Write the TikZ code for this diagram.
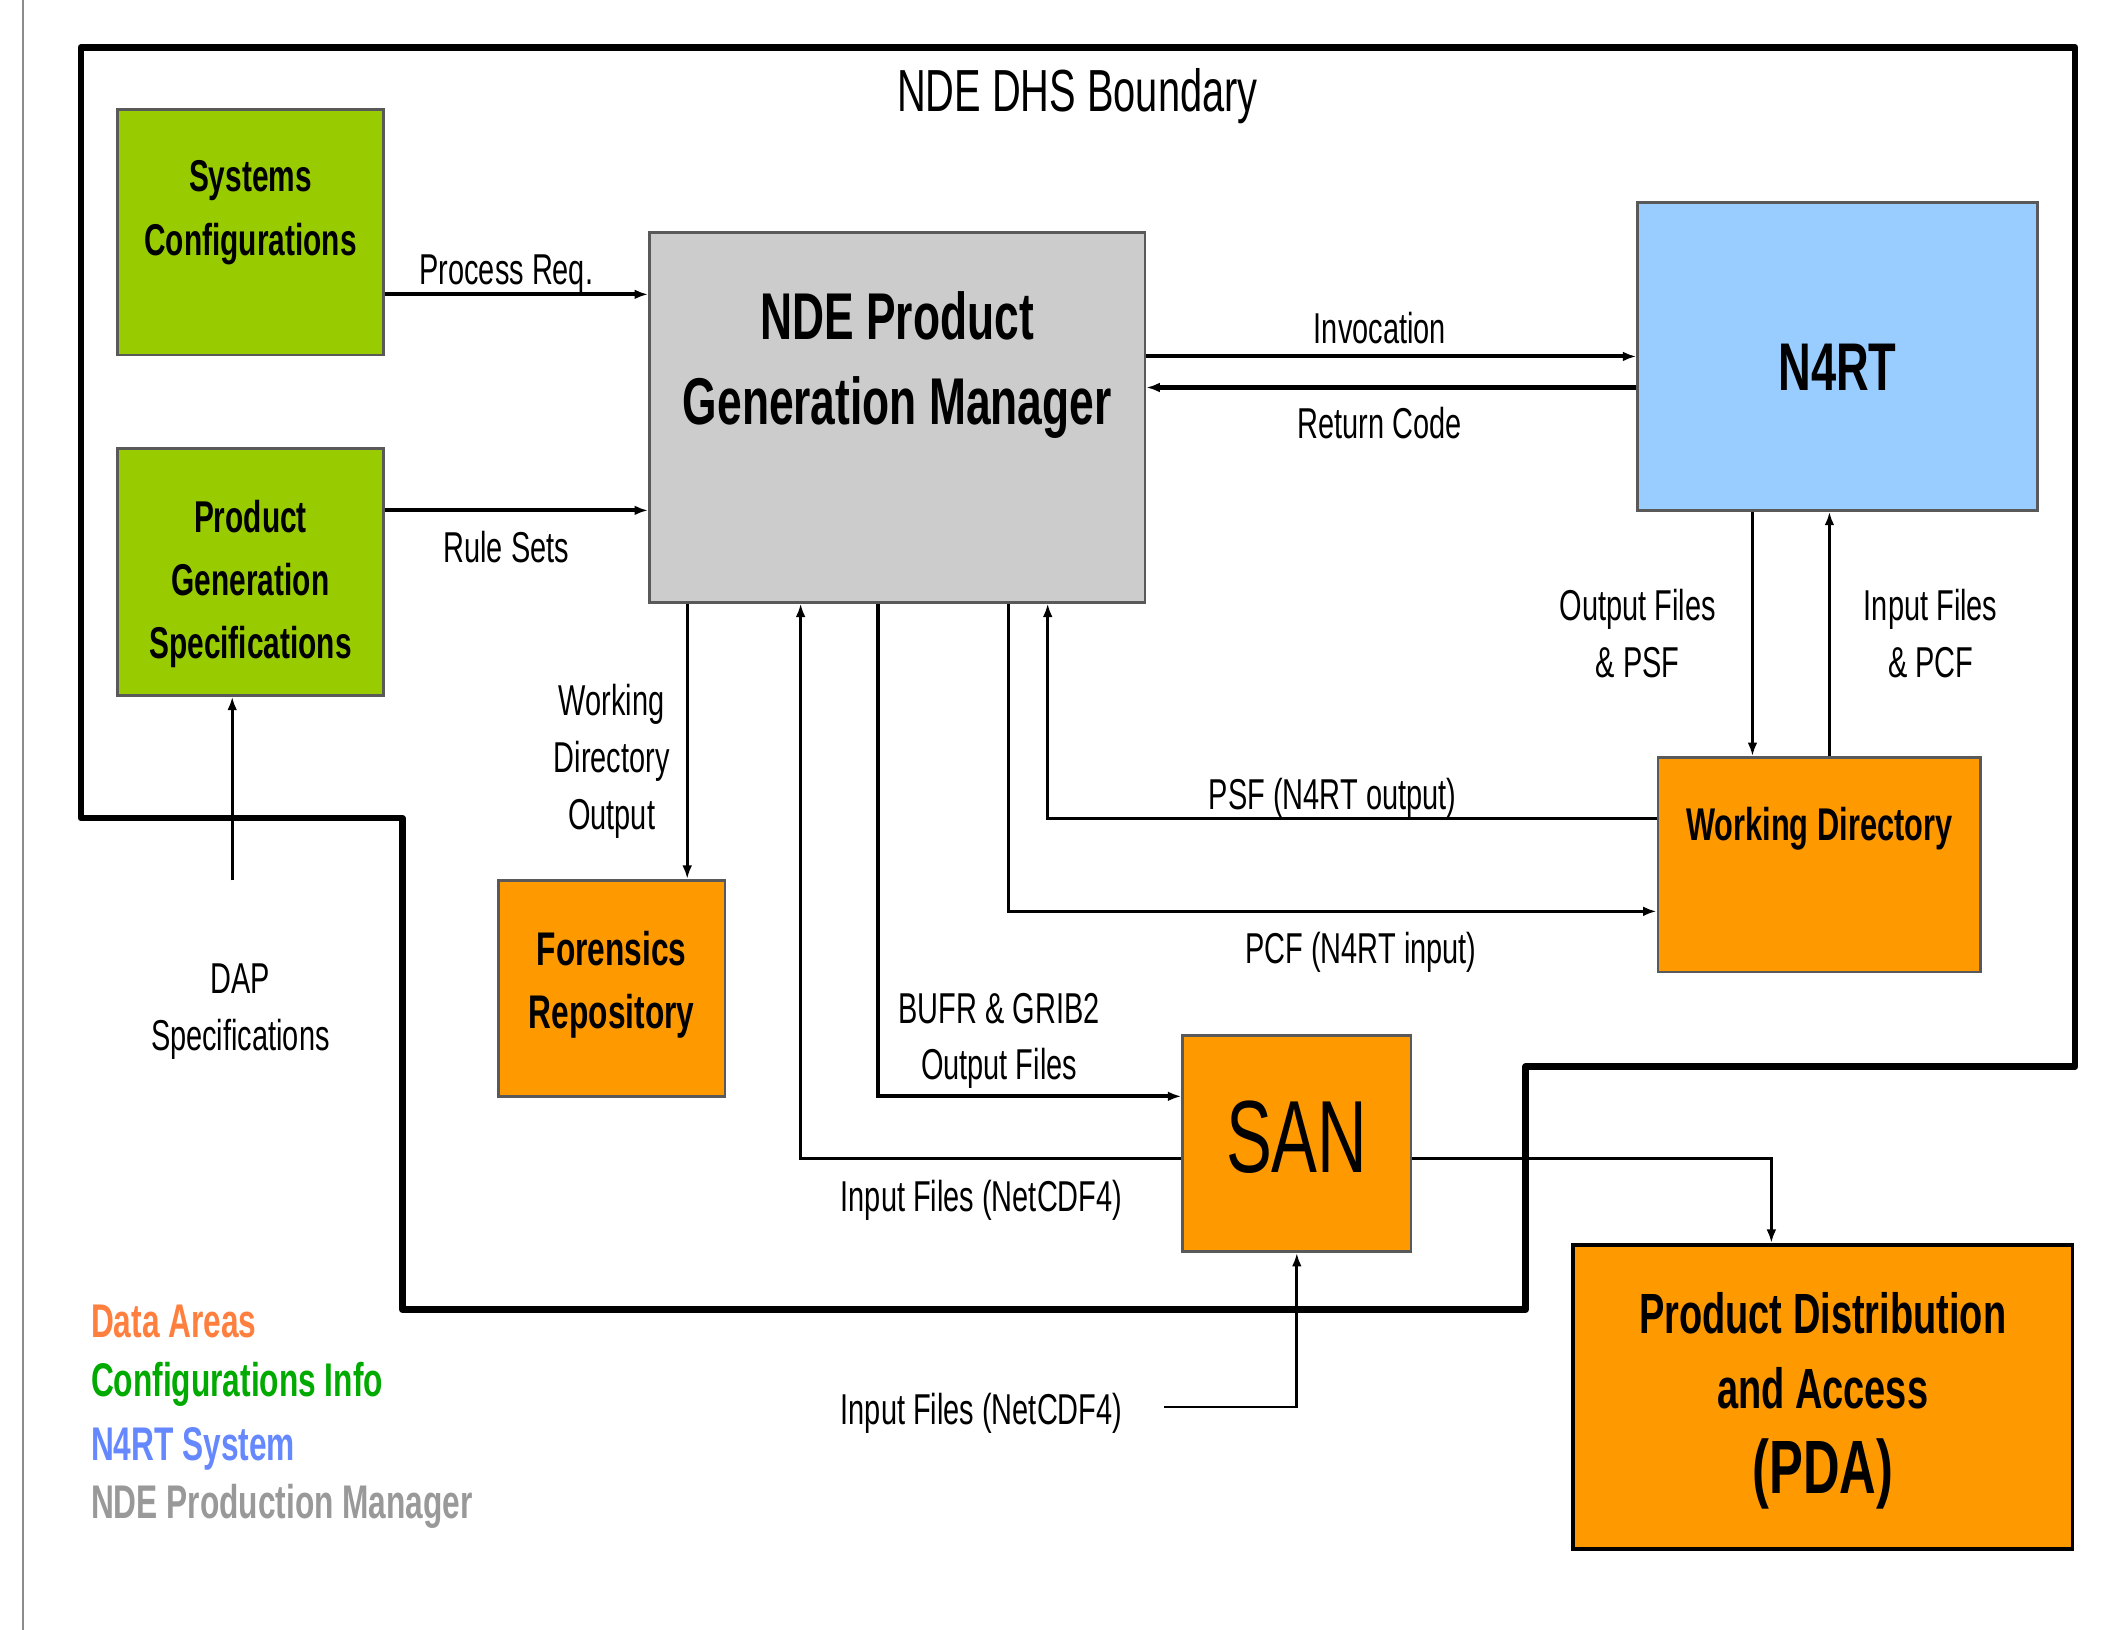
\documentclass[tikz,border=0pt]{standalone}
\usepackage{fontspec}
\setmainfont[FakeStretch=0.67]{Liberation Sans}
\usetikzlibrary{calc,arrows.meta,positioning}
\definecolor{cfggreen}{HTML}{99CC00}
\definecolor{pgmgrey}{HTML}{CCCCCC}
\definecolor{rtblue}{HTML}{99CCFF}
\definecolor{dataorange}{HTML}{FF9900}
\definecolor{legorange}{HTML}{FF7F3F}
\definecolor{leggreen}{HTML}{00AA00}
\definecolor{legblue}{HTML}{6688FF}
\definecolor{leggrey}{HTML}{999999}
\tikzset{box/.style={draw=black!65, line width=1pt, rectangle, inner sep=0pt, fill=#1},
  boxtext/.style={font=\bfseries\fontsize{16.5}{23.5}\selectfont, align=center},
  lbl/.style={font=\fontsize{16}{21}\selectfont, align=center},
  flow/.style={line width=1pt, -{Latex[length=5pt,width=3.6pt]}},
  bigflow/.style={flow, line width=1.5pt},
  boundary/.style={line width=2.4pt, line join=round},
  legend/.style={font=\bfseries\fontsize{17.5}{20}\selectfont, anchor=west, inner xsep=0pt}}

\begin{document}
\begin{tikzpicture}[x=0.5pt, y=-0.5pt]
    \useasboundingbox (0,0) rectangle (1568,1207);
    \draw[black!45, line width=1pt] (17,0) -- (17,1207);
    % boundary
    \draw[boundary] (60,35) -- (1537,35) -- (1537,790) -- (1130,790) -- (1130,970) -- (298,970) -- (298,606) -- (60,606) -- cycle;
    \node[font=\fontsize{22}{26}\selectfont] (title) at (798,71) {NDE DHS Boundary};
    % boxes
    \node[box=cfggreen, minimum width=98.5pt, minimum height=91pt] (sysconf) at (185.5,172) {};
    \node[boxtext] (sysconf-txt) at ($(sysconf)+(0,-14.5)$) {Systems\\Configurations};
    \node[box=cfggreen, minimum width=98.5pt, minimum height=91.5pt] (pgs) at (185.5,423.5) {};
    \node[boxtext] (pgs-txt) at ($(pgs)+(0,9)$) {Product\\Generation\\Specifications};
    \node[box=pgmgrey, minimum width=183.5pt, minimum height=137pt] (pgm) at (664.5,309) {};
    \node[boxtext, font=\bfseries\fontsize{24.5}{31.5}\selectfont] (pgm-txt) at ($(pgm)+(0,-38.5)$) {NDE Product\\Generation Manager};
    \node[box=rtblue, minimum width=148pt, minimum height=114pt] (n4rt) at (1361,264) {};
    \node[boxtext, font=\bfseries\fontsize{25}{30}\selectfont] (n4rt-txt) at ($(n4rt)+(0,8)$) {N4RT};
    \node[box=dataorange, minimum width=119.5pt, minimum height=79.5pt] (wd) at (1347.5,640.5) {};
    \node[boxtext, font=\bfseries\fontsize{17}{23.5}\selectfont] (wd-txt) at ($(wd)+(0,-26.5)$) {Working Directory};
    \node[box=dataorange, minimum width=84pt, minimum height=80pt] (forensic) at (453,732) {};
    \node[boxtext, font=\bfseries\fontsize{17.5}{23.5}\selectfont] (forensic-txt) at ($(forensic)+(0,-2.5)$) {Forensics\\Repository};
    \node[box=dataorange, minimum width=84.5pt, minimum height=80pt] (san) at (960.5,847) {};
    \node[font=\fontsize{38}{40}\selectfont] (san-txt) at ($(san)+(0,-5)$) {SAN};
    \node[box=dataorange, draw=black, line width=1.4pt, minimum width=185pt, minimum height=112.5pt] (pda) at (1350,1034.5) {};
    \node[boxtext, font=\bfseries\fontsize{21}{27.5}\selectfont] (pda-txt) at ($(pda)+(0,-34)$) {Product Distribution\\and Access};
    \node[font=\bfseries\fontsize{28}{30}\selectfont] (pda-abbr) at ($(pda)+(0,57.5)$) {(PDA)};
    % labels
    \node[lbl] (preq) at (375,203) {Process Req.};
    \node[lbl] (rules) at (375,405) {Rule Sets};
    \node[lbl] (invoc) at (1022,243) {Invocation};
    \node[lbl] (retcode) at (1022,313) {Return Code};
    \node[lbl] (outpsf) at (1213,469) {Output Files\\\& PSF};
    \node[lbl] (inpcf) at (1430,469) {Input Files\\\& PCF};
    \node[lbl] (psfout) at (987,591) {PSF (N4RT output)};
    \node[lbl] (pcfin) at (1008,705) {PCF (N4RT input)};
    \node[lbl] (wdout) at (453,564) {Working\\Directory\\Output};
    \node[lbl] (bufr) at (740,771) {BUFR \& GRIB2\\Output Files};
    \node[lbl] (netcdf) at (727,889) {Input Files (NetCDF4)};
    \node[lbl] (netin) at (727,1047) {Input Files (NetCDF4)};
    \node[lbl] (dap) at (178,749) {DAP\\Specifications};
    \coordinate (netsrc) at (862,1042);
    \coordinate (dapsrc) at (172,652);
    % connectors
    \draw[bigflow] ($(sysconf.east)+(0,46)$) coordinate (pr) -- (pr -| pgm.west);
    \draw[bigflow] ($(pgs.east)+(0,-45.5)$) coordinate (rs) -- (rs -| pgm.west);
    \draw[bigflow] ($(pgm.east)+(0,-45)$) coordinate (inv) -- (inv -| n4rt.west);
    \draw[bigflow] ($(n4rt.west)+(0,23)$) coordinate (rc) -- (rc -| pgm.east);
    \draw[flow] ($(n4rt.south)+(-63,0)$) coordinate (of) -- (of |- wd.north);
    \draw[flow] ($(wd.north)+(7.5,0)$) coordinate (if) -- (if |- n4rt.south);
    \draw[flow] ($(wd.west)+(0,-34.5)$) -| ($(pgm.south west)+(296,0)$);
    \draw[flow] ($(pgm.south west)+(267,0)$) |- ($(wd.west)+(0,34.5)$);
    \draw[flow] ($(pgm.south west)+(29,0)$) coordinate (wdo) -- (wdo |- forensic.north);
    \draw[bigflow] ($(pgm.south west)+(170,0)$) |- ($(san.west)+(0,-35)$);
    \draw[flow] ($(san.west)+(0,11)$) -| ($(pgm.south west)+(113,0)$);
    \draw[flow] ($(san.east)+(0,11)$) -| ($(pda.north)+(-38,0)$);
    \draw[flow] (netsrc) -| (san.south);
    \draw[flow] (dapsrc) -- (dapsrc |- pgs.south);
    % legend
    \node[legend, text=legorange] (leg-data) at (67,979) {Data Areas};
    \node[legend, text=leggreen] (leg-cfg) at (67,1025) {Configurations Info};
    \node[legend, text=legblue] (leg-n4rt) at (67,1073) {N4RT System};
    \node[legend, text=leggrey] (leg-pgm) at (67,1116) {NDE Production Manager};
\end{tikzpicture}
\end{document}
